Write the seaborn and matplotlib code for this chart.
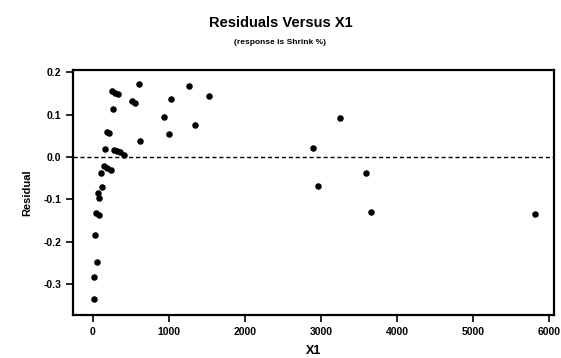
import numpy as np
import pandas as pd
import seaborn as sb
import matplotlib.pyplot as plt

# values
x1 = [9, 17, 57, 30, 36, 83, 62, 79, 114, 109, 141, 188, 237, 162, 180, 214,
      263, 254, 289, 329, 280, 320, 355, 412, 513, 553, 609, 622, 930, 1004,
      1026, 1267, 1342, 1526, 2899, 3254, 2961, 3588, 3662, 5820]
resid = [-0.335, -0.284, -0.248, -0.185, -0.132, -0.136, -0.085, -0.096, -0.070,
         -0.038, -0.022, -0.025, -0.031, 0.019, 0.059, 0.056, 0.112, 0.155,
         0.151, 0.148, 0.016, 0.014, 0.012, 0.005, 0.131, 0.128, 0.172, 0.038,
         0.094, 0.054, 0.137, 0.167, 0.075, 0.144, 0.021, 0.092, -0.069, -0.039,
         -0.131, -0.134]
xticks = [0, 1000, 2000, 3000, 4000, 5000, 6000]
yticks = [-0.3, -0.2, -0.1, 0.0, 0.1, 0.2]

df = pd.DataFrame({"X1": x1, "Residual": resid})

sb.set_style("white")
plt.rcParams['font.family'] = ['Liberation Sans', 'DejaVu Sans']
plt.rcParams['font.weight'] = 'bold'
plt.rcParams['text.color'] = 'black'
plt.rcParams['axes.labelcolor'] = 'black'
plt.rcParams['xtick.color'] = 'black'
plt.rcParams['ytick.color'] = 'black'

fig = plt.figure(figsize=(5.61, 3.58), dpi=100)
ax = fig.add_axes([0.130, 0.120, 0.8575, 0.6845])
sb.scatterplot(data=df, x="X1", y="Residual", color="black", s=22,
               edgecolor="black", linewidth=0, ax=ax)
ax.axhline(0, color="black", linestyle=(0, (3, 2)), linewidth=1)

ax.set_xlim(-263, 6066)
ax.set_ylim(-0.373, 0.205)
ax.set_xticks(xticks)
ax.set_yticks(yticks)
ax.set_yticklabels(["%.1f" % v for v in yticks])
ax.tick_params(direction="out", length=5, width=1.2, labelsize=7.5,
               left=True, bottom=True)
for sp in ax.spines.values():
    sp.set_linewidth(1.6)
    sp.set_color("black")
ax.set_xlabel("X1", fontsize=9, fontweight="bold", labelpad=6)
ax.set_ylabel("Residual", fontsize=8, fontweight="bold", labelpad=8)

fig.text(0.5, 0.935, "Residuals Versus X1", ha="center", va="center",
         fontsize=10.5, fontweight="bold")
fig.text(0.5, 0.882, "(response is Shrink %)", ha="center", va="center",
         fontsize=6, fontweight="bold")

fig.savefig("out.png", dpi=100)
